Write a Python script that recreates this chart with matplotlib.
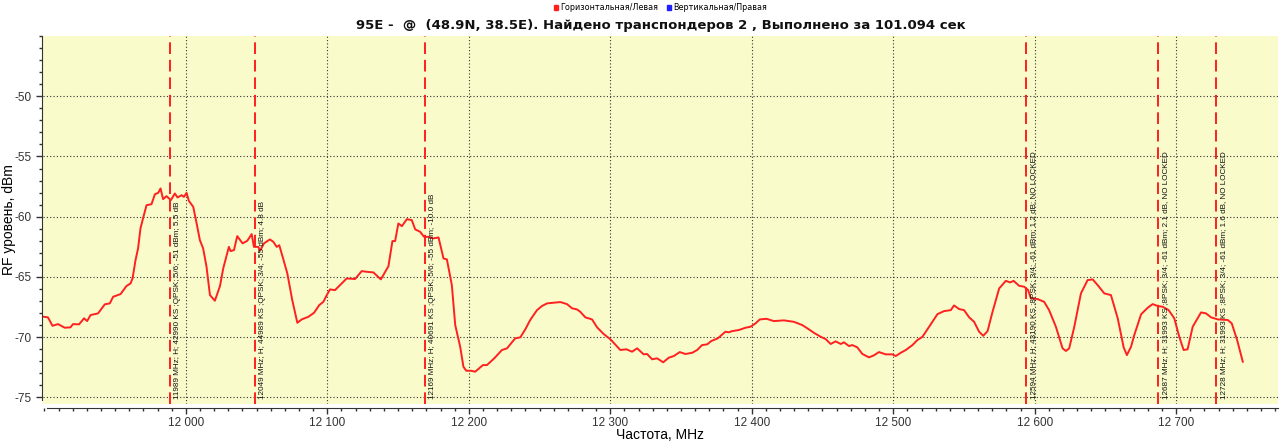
import matplotlib
matplotlib.use('Agg')
import matplotlib.pyplot as plt
from matplotlib.patches import Patch
from matplotlib.ticker import MultipleLocator, FuncFormatter

# spectrum scan, MHz / dBm
freq = [11899.5, 11902.5, 11905.7, 11909.6, 11914.4, 11918.4, 11920.2, 11924.5, 11928.0, 11930.2,
        11932.6, 11937.9, 11942.7, 11946.2, 11948.6, 11953.8, 11958.0, 11960.9, 11962.3, 11964.4,
        11966.2, 11967.9, 11970.3, 11972.2, 11975.7, 11978.1, 11980.4, 11982.1, 11983.9, 11986.3,
        11989.4, 11992.2, 11994.1, 11997.0, 11998.6, 12000.5, 12002.1, 12005.2, 12007.6, 12009.9,
        12012.2, 12014.6, 12017.0, 12020.5, 12024.1, 12026.4, 12030.4, 12031.6, 12034.0, 12036.3,
        12040.1, 12043.4, 12046.5, 12048.1, 12051.2, 12052.4, 12055.2, 12059.4, 12061.8, 12064.2,
        12066.0, 12068.4, 12071.7, 12075.2, 12078.8, 12081.9, 12086.6, 12090.6, 12094.3, 12097.2,
        12099.6, 12101.9, 12105.4, 12110.2, 12113.7, 12119.6, 12124.3, 12127.9, 12132.6, 12137.8,
        12143.2, 12146.0, 12147.9, 12150.2, 12152.7, 12156.2, 12159.7, 12162.1, 12165.6, 12168.4,
        12171.5, 12174.6, 12178.6, 12182.1, 12184.5, 12188.0, 12190.4, 12193.9, 12196.2, 12198.2,
        12201.5, 12204.5, 12210.0, 12212.8, 12218.0, 12223.4, 12227.0, 12232.8, 12236.4, 12239.9,
        12243.4, 12248.2, 12251.7, 12255.3, 12259.9, 12264.7, 12269.4, 12273.0, 12276.5, 12278.8,
        12282.4, 12287.1, 12290.7, 12295.3, 12300.1, 12307.1, 12311.4, 12315.4, 12319.0, 12323.6,
        12326.0, 12329.6, 12333.1, 12337.4, 12341.3, 12344.9, 12349.1, 12353.1, 12357.9, 12361.4,
        12364.9, 12368.5, 12371.3, 12376.0, 12381.4, 12383.8, 12386.2, 12390.9, 12395.6, 12399.1,
        12402.7, 12405.7, 12410.5, 12415.6, 12422.7, 12429.8, 12435.7, 12439.3, 12443.9, 12448.7,
        12452.2, 12455.8, 12459.3, 12462.9, 12465.2, 12468.7, 12471.1, 12474.6, 12478.2, 12482.9,
        12486.4, 12489.9, 12494.7, 12499.4, 12501.8, 12505.3, 12508.9, 12513.6, 12517.1, 12520.7,
        12525.4, 12531.3, 12536.0, 12540.7, 12543.0, 12546.6, 12550.1, 12553.7, 12557.2, 12560.7,
        12563.6, 12566.7, 12570.2, 12574.9, 12579.6, 12582.6, 12585.1, 12589.0, 12592.6, 12595.4,
        12597.3, 12602.0, 12606.7, 12610.2, 12615.0, 12619.7, 12622.1, 12624.4, 12628.0, 12632.7,
        12637.4, 12641.0, 12644.5, 12649.2, 12653.9, 12658.7, 12662.9, 12665.2, 12668.1, 12670.4,
        12675.2, 12679.9, 12683.4, 12687.0, 12690.5, 12694.7, 12698.7, 12702.2, 12705.3, 12708.1,
        12711.7, 12717.6, 12721.1, 12724.7, 12729.4, 12736.5, 12739.3, 12743.1, 12747.1]
level = [-68.30, -68.35, -69.05, -68.91, -69.21, -69.18, -68.91, -68.93, -68.43, -68.66,
         -68.16, -68.02, -67.27, -67.19, -66.64, -66.42, -65.75, -65.53, -65.12, -63.60,
         -62.63, -60.97, -59.87, -59.04, -58.96, -58.13, -58.02, -57.65, -58.54, -58.29,
         -58.62, -58.07, -58.40, -58.21, -58.35, -58.02, -58.68, -59.18, -60.56, -61.94,
         -62.63, -64.15, -66.50, -66.97, -65.75, -64.29, -62.50, -62.85, -62.77, -61.61,
         -62.21, -62.00, -61.44, -62.50, -62.50, -62.83, -62.21, -61.88, -62.08, -62.50,
         -62.36, -63.33, -64.70, -66.92, -68.80, -68.52, -68.30, -67.97, -67.33, -67.06,
         -66.50, -66.03, -66.09, -65.53, -65.12, -65.17, -64.51, -64.57, -64.62, -65.20,
         -64.10, -62.02, -62.02, -60.56, -60.78, -60.20, -60.28, -61.05, -61.25, -61.67,
         -61.67, -61.80, -61.72, -63.46, -63.54, -65.67, -68.99, -70.79, -72.45, -72.78,
         -72.78, -72.86, -72.31, -72.31, -71.75, -71.06, -70.92, -70.09, -70.01, -69.35,
         -68.57, -67.75, -67.41, -67.19, -67.14, -67.08, -67.25, -67.60, -67.69, -67.89,
         -68.35, -68.52, -69.18, -69.73, -70.17, -71.06, -71.00, -71.20, -70.92, -71.42,
         -71.39, -71.83, -71.75, -72.08, -71.70, -71.56, -71.23, -71.39, -71.29, -71.06,
         -70.65, -70.59, -70.32, -70.09, -69.54, -69.59, -69.49, -69.40, -69.21, -69.13,
         -68.85, -68.52, -68.47, -68.66, -68.60, -68.72, -68.99, -69.26, -69.63, -69.96,
         -70.15, -70.56, -70.34, -70.56, -70.42, -70.73, -70.65, -70.84, -71.39, -71.67,
         -71.50, -71.23, -71.42, -71.42, -71.56, -71.29, -71.06, -70.65, -70.23, -69.96,
         -69.13, -68.08, -67.83, -67.75, -67.36, -67.66, -67.75, -68.35, -68.72, -69.54,
         -69.88, -69.49, -67.89, -65.95, -65.32, -65.45, -65.32, -65.73, -65.81, -66.09,
         -66.77, -66.83, -67.06, -67.75, -69.13, -70.92, -71.14, -70.92, -69.13, -66.36,
         -65.26, -65.20, -65.67, -66.36, -66.50, -68.43, -70.84, -71.48, -70.79, -69.82,
         -68.10, -67.55, -67.25, -67.41, -67.47, -67.75, -68.43, -69.96, -71.06, -71.00,
         -69.13, -67.94, -68.02, -68.35, -68.52, -68.57, -68.85, -70.23, -72.03]

# transponders found
tp_freq = [11989, 12049, 12169, 12594, 12687, 12728]
tp_text = ['11989 MHz; H; 42990 KS ;QPSK; 5/6; -51 dBm; 5.5 dB',
           '12049 MHz; H; 44989 KS ;QPSK; 3/4; -55 dBm; 4.8 dB',
           '12169 MHz; H; 40691 KS ;QPSK; 5/6; -55 dBm; -10.0 dB',
           '12594 MHz; H; 43190 KS ;8PSK; 3/4; -61 dBm; 1.2 dB; NO LOCKED',
           '12687 MHz; H; 31993 KS ;8PSK; 3/4; -61 dBm; 2.1 dB, NO LOCKED',
           '12728 MHz; H; 31993 KS ;8PSK; 3/4; -61 dBm; 1.6 dB, NO LOCKED']

x_ticks = [12000, 12100, 12200, 12300, 12400, 12500, 12600, 12700]
y_ticks = [-75, -70, -65, -60, -55, -50]

title = '95E -  @  (48.9N, 38.5E). Найдено транспондеров 2 , Выполнено за 101.094 сек'

plt.rcParams['font.family'] = ['DejaVu Sans']
plt.rcParams['axes.unicode_minus'] = False

fig = plt.figure(figsize=(12.8, 4.41), dpi=100)
ax = fig.add_axes([43/1280, 1 - 404/441, 1235/1280, 368/441])
ax.set_facecolor('#F9FBCB')

ax.plot(freq, level, color='#FF2020', lw=1.4, zorder=3)

for f, t in zip(tp_freq, tp_text):
    ax.axvline(f, color='#FF2020', lw=1.4, dashes=(6, 3), zorder=2)
    ax.annotate(t, xy=(f, -75.15), xytext=(2.8, 0), textcoords='offset points',
                rotation=90, ha='left', va='bottom', fontsize=5.9,
                family='Liberation Sans', color='#111111', zorder=4)

ax.set_xlim(11899, 12772)
ax.set_ylim(-75.54, -45.0)

ax.set_xticks(x_ticks)
ax.xaxis.set_minor_locator(MultipleLocator(10))
ax.set_yticks(y_ticks)
ax.yaxis.set_minor_locator(MultipleLocator(1))
ax.xaxis.set_major_formatter(FuncFormatter(lambda v, p: '{:,.0f}'.format(v).replace(',', ' ')))

ax.grid(True, which='major', color='#333333', lw=0.8, linestyle=(0, (1, 2)))

for s in ['top', 'right']:
    ax.spines[s].set_visible(False)
ax.spines['left'].set_position(('outward', 1))
ax.spines['bottom'].set_position(('outward', 3))
ax.spines['left'].set_bounds(-75.2, -45.0)
ax.spines['bottom'].set_bounds(11902, 12772)
ax.spines['left'].set_color('#333333')
ax.spines['bottom'].set_color('#333333')

ax.tick_params(which='major', length=4, width=1, color='#333333', labelsize=8.5, labelcolor='#333333')
ax.tick_params(which='minor', length=2, width=1, color='#333333')
ax.tick_params(axis='x', which='major', pad=2.5)
for lab in ax.get_xticklabels() + ax.get_yticklabels():
    lab.set_family('Liberation Sans')

ax.set_xlabel('Частота, MHz', fontsize=10, family='Liberation Sans')
ax.set_ylabel('RF уровень, dBm', fontsize=10, family='Liberation Sans')
ax.xaxis.set_label_coords((660 - 43) / 1235, (404 - 428) / 368)
ax.yaxis.set_label_coords((16 - 43) / 1235, 0.5)

fig.text(0.516, 0.943, title, ha='center', va='center', fontsize=9.5, fontweight='bold', color='#111111')

handles = [Patch(color='#FF2020', label='Горизонтальная/Левая'),
           Patch(color='#2020FF', label='Вертикальная/Правая')]
fig.legend(handles=handles, loc='center', bbox_to_anchor=(0.516, 0.982), ncol=2, frameon=False,
           fontsize=5.8, handlelength=0.55, handleheight=0.55, handletextpad=0.3, columnspacing=1.0,
           borderpad=0)

fig.savefig('out.png', dpi=100)
